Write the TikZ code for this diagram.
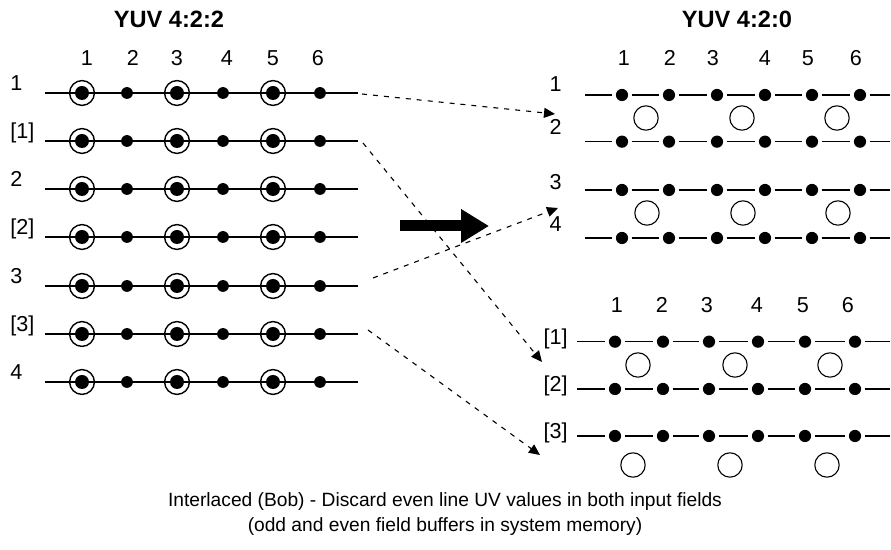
\documentclass[tikz,border=0pt]{standalone}
\usepackage{fontspec}
\setmainfont{Liberation Sans}
\usetikzlibrary{arrows.meta}

\begin{document}
\begin{tikzpicture}[x=0.5pt, y=-0.5pt, >=Stealth, line join=round,
  lbl/.style={font=\fontsize{10.8}{12}\selectfont, inner sep=0pt},
  captxt/.style={font=\fontsize{9.6}{11}\selectfont, inner sep=0pt},
  ttl/.style={font=\fontsize{11.8}{13}\selectfont\bfseries, inner sep=0pt},
  row/.style={line width=0.75pt},
  ring/.style={circle, draw, line width=0.7pt, fill=white, minimum size=12.4pt, inner sep=0pt, outer sep=0pt,
    path picture={\fill[black] (path picture bounding box.center) circle (3.5pt);}},
  pix/.style={circle, fill, minimum size=5.9pt, inner sep=0pt, outer sep=0pt},
  lum/.style={circle, fill, minimum size=6.1pt, inner sep=0pt, outer sep=1.8pt},
  chr/.style={circle, draw, line width=0.55pt, minimum size=12.2pt, inner sep=0pt},
  feed/.style={line width=0.55pt, dash pattern=on 2.5pt off 3pt, -{Triangle[length=5.5pt,width=5pt]}}]
  \useasboundingbox (0,0) rectangle (891,550);

  % titles
  \node[ttl, anchor=base] (t422) at (169,28) {YUV 4:2:2};
  \node[ttl, anchor=base] (t420) at (737,28) {YUV 4:2:0};

  % column numbers
  \foreach \x [count=\j] in {87,133,177,227,273,318}
    \node[lbl, anchor=base] (lc\j) at (\x,66) {\j};
  \foreach \x [count=\j] in {624,670,713,765,808,856}
    \node[lbl, anchor=base] (tc\j) at (\x,66) {\j};
  \foreach \x [count=\j] in {617,662,707,757,803,848}
    \node[lbl, anchor=base] (bc\j) at (\x,313) {\j};

  % YUV 4:2:2 lines
  \foreach \y/\t [count=\i] in {93/1,141/{[1]},189/2,237/{[2]},286/3,334/{[3]},382/4}{
    \node[lbl, anchor=base west] (lr\i) at (10,\y-2) {\t};
    \coordinate (ls\i) at (45,\y);
    \coordinate (le\i) at (358,\y);
    \foreach \x [count=\j] in {82,127,177,223,273,320}{
      \ifodd\j
        \node[ring] (p\i-\j) at (\x,\y) {};
      \else
        \node[pix] (p\i-\j) at (\x,\y) {};
      \fi
    }
    \draw[row] (ls\i) \foreach \j in {1,...,6}{ -- (p\i-\j)} -- (le\i);
  }

  % YUV 4:2:0, field 1
  \foreach \y/\b/\t [count=\i] in {95/92/1,141.7/135/2,190/190/3,238/232/4}{
    \node[lbl, anchor=base east] (tr\i) at (562,\b) {\t};
    \coordinate (ts\i) at (585,\y);
    \coordinate (te\i) at (890,\y);
    \foreach \x [count=\j] in {622,669,717,765,812,860}
      \node[lum] (q\i-\j) at (\x,\y) {};
    \foreach \j [count=\k from 0] in {1,...,6}{
      \ifnum\k=0
        \draw[row] (ts\i) -- (q\i-\j);
      \else
        \draw[row] (q\i-\k) -- (q\i-\j);
      \fi
    }
    \draw[row] (q\i-6) -- (te\i);
  }
  \node[chr] (u1) at (646,118) {};
  \node[chr] (u2) at (742,118) {};
  \node[chr] (u3) at (837,118) {};
  \node[chr] (u4) at (647,213) {};
  \node[chr] (u5) at (743,213) {};
  \node[chr] (u6) at (838,213) {};

  % YUV 4:2:0, field 2
  \foreach \y/\t [count=\i] in {341.7/{[1]},389/{[2]},436/{[3]}}{
    \node[lbl, anchor=base east] (br\i) at (568,\y+2.5) {\t};
    \coordinate (bs\i) at (577,\y);
    \coordinate (be\i) at (890,\y);
    \foreach \x [count=\j] in {615,663,709,758,805,855}
      \node[lum] (s\i-\j) at (\x,\y) {};
    \foreach \j [count=\k from 0] in {1,...,6}{
      \ifnum\k=0
        \draw[row] (bs\i) -- (s\i-\j);
      \else
        \draw[row] (s\i-\k) -- (s\i-\j);
      \fi
    }
    \draw[row] (s\i-6) -- (be\i);
  }
  \node[chr] (v1) at (638,365) {};
  \node[chr] (v2) at (735,365) {};
  \node[chr] (v3) at (830,365) {};
  \node[chr] (v4) at (633,465) {};
  \node[chr] (v5) at (730,465) {};
  \node[chr] (v6) at (827,465) {};

  % dashed feeds
  \coordinate (f1) at (362,94);
  \coordinate (g1) at (555,114);
  \coordinate (f2) at (363,143);
  \coordinate (g2) at (542,362);
  \coordinate (f3) at (373,278);
  \coordinate (g3) at (558,208);
  \coordinate (f4) at (368,330);
  \coordinate (g4) at (540,455);
  \draw[feed] (f1) -- (g1);
  \draw[feed] (f2) -- (g2);
  \draw[feed] (f3) -- (g3);
  \draw[feed] (f4) -- (g4);

  % big arrow
  \coordinate (ba) at (400,226);
  \coordinate (bb) at (489,226);
  \draw[line width=5.5pt, -{Triangle[length=14pt,width=16pt]}] (ba) -- (bb);

  % caption
  \node[captxt, anchor=base] (cap1) at (445,507) {Interlaced (Bob) - Discard even line UV values in both input fields};
  \node[captxt, anchor=base] (cap2) at (445,532) {(odd and even field buffers in system memory)};
\end{tikzpicture}
\end{document}
